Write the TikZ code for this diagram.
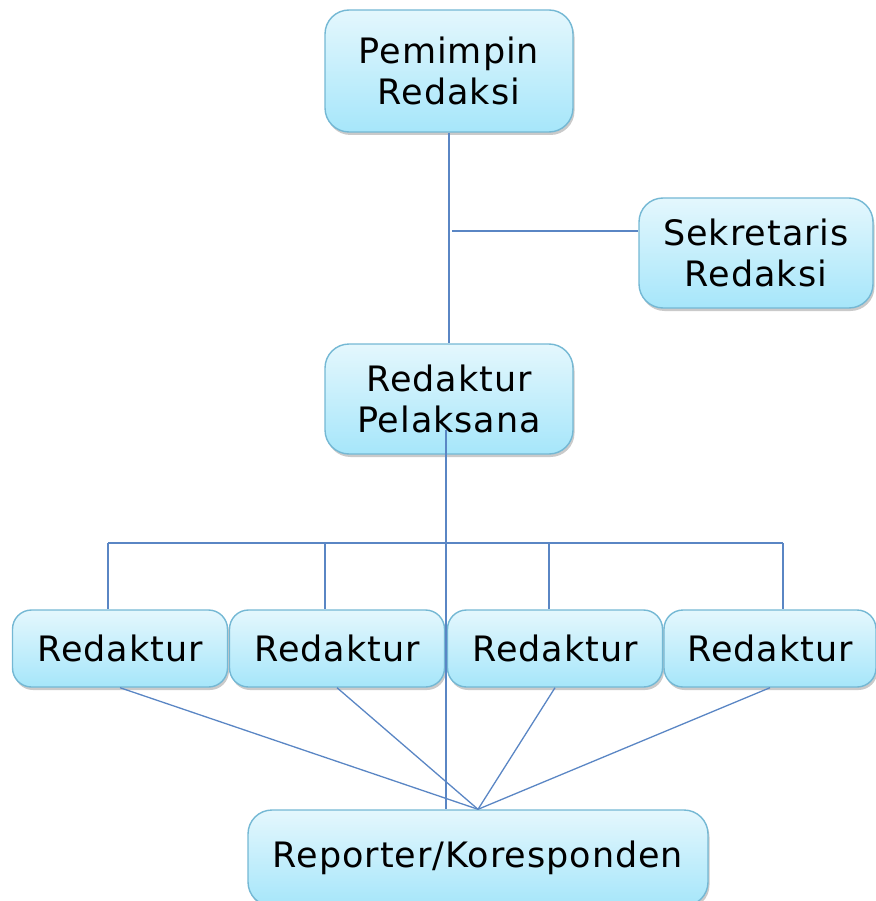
\documentclass[tikz,border=0pt]{standalone}
\usepackage{fontspec}
\setmainfont{DejaVu Sans}[LetterSpace=2.8]
\usetikzlibrary{shadows}
\definecolor{boxtop}{HTML}{E4F7FD}
\definecolor{boxbot}{HTML}{A6E6FA}
\definecolor{boxline}{HTML}{74B8D4}
\definecolor{conn}{HTML}{5A86C4}
\tikzset{
  orgbox/.style={rounded corners=24pt, draw=boxline, line width=1.4pt,
    top color=boxtop, bottom color=boxbot, align=center, inner sep=0pt,
    font=\fontsize{35}{41}\selectfont, text=black,
    drop shadow={shadow xshift=1.5pt, shadow yshift=-3pt, opacity=0.35, fill=black!60}},
  smallbox/.style={orgbox, rounded corners=19pt, minimum width=215pt, minimum height=77pt},
  link/.style={draw=conn, line width=1.3pt}
}
\begin{document}
\begin{tikzpicture}[x=1pt,y=-1pt]
\useasboundingbox (0,0) rectangle (875,901);
% boxes
\node[orgbox, minimum width=248pt, minimum height=122pt] (PR) at (449,71) {Pemimpin\\Redaksi};
\node[orgbox, minimum width=234pt, minimum height=110pt] (SR) at (756,253) {Sekretaris\\Redaksi};
\node[orgbox, minimum width=248pt, minimum height=110pt] (RP) at (449,399) {Redaktur\\Pelaksana};
\node[smallbox] (R1) at (120,648.5) {Redaktur};
\node[smallbox] (R2) at (337,648.5) {Redaktur};
\node[smallbox] (R3) at (555,648.5) {Redaktur};
\node[smallbox, minimum width=212pt] (R4) at (770,648.5) {Redaktur};
\node[orgbox, minimum width=460pt, minimum height=96pt] (REP) at (478,858) {Reporter/Koresponden};
% coordinates
\coordinate (sj) at (452,231);
\coordinate (b1) at (108,543);
\coordinate (b2) at (325,543);
\coordinate (b3) at (549,543);
\coordinate (b4) at (783,543);
\coordinate (rpl) at (446,430);
% connectors
\draw[link] (PR.south) -- (RP.north);
\draw[link] (sj) -- (sj -| SR.west);
\draw[link] (b1) -- (b4);
\draw[link] (b1) -- (b1 |- R1.north);
\draw[link] (b2) -- (b2 |- R2.north);
\draw[link] (b3) -- (b3 |- R3.north);
\draw[link] (b4) -- (b4 |- R4.north);
\draw[link] (rpl) -- (rpl |- REP.north);
\draw[link] (R1.south) -- (REP.north);
\draw[link] (R2.south) -- (REP.north);
\draw[link] (R3.south) -- (REP.north);
\draw[link] (R4.south) -- (REP.north);
\end{tikzpicture}
\end{document}
